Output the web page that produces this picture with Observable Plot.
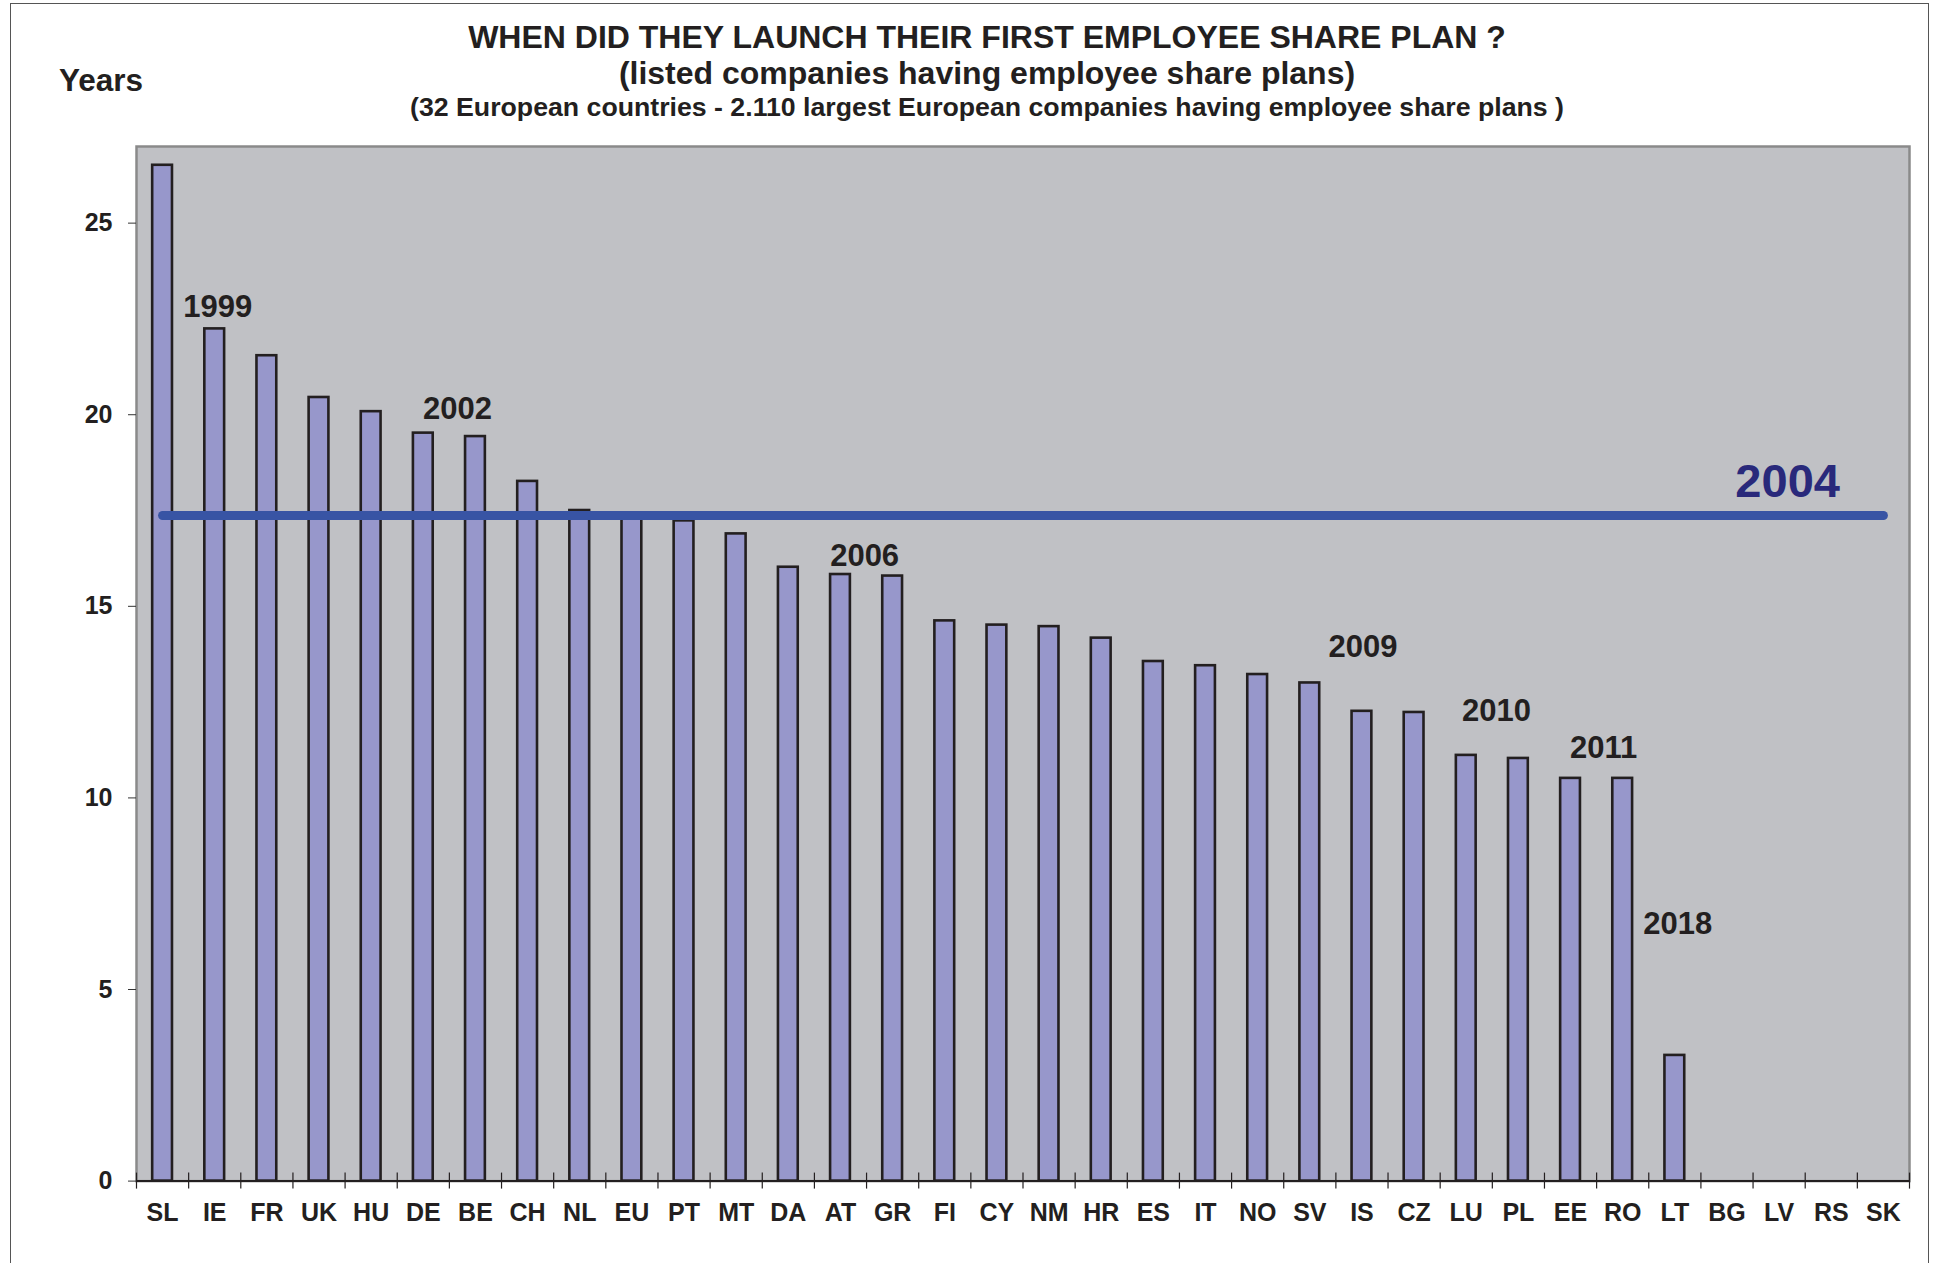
<!DOCTYPE html>
<html>
<head>
<meta charset="utf-8">
<script src="https://cdn.jsdelivr.net/npm/d3@7"></script>
<script src="https://cdn.jsdelivr.net/npm/@observablehq/plot@0.6"></script>
<style>
  html, body { margin: 0; padding: 0; background: #ffffff; overflow: hidden; }
  #wrap { position: relative; width: 1934px; height: 1263px; overflow: hidden;
          font-family: "Liberation Sans", Arial, Helvetica, sans-serif; font-weight: bold; color: #231f20; }
  #outer { position: absolute; left: 10px; top: 3px; width: 1919px; height: 1400px;
           border: 1.5px solid #555; box-sizing: border-box; }
  .t { position: absolute; white-space: nowrap; line-height: 1; }
  .c { left: 987px; transform: translateX(-50%); }
  #chart { position: absolute; left: 0; top: 0; }
</style>
</head>
<body>
<div id="wrap">
  <div id="outer"></div>
  <div id="chart"></div>
  <div class="t c" id="t1" style="top:21px;font-size:32px;"></div>
  <div class="t c" id="t2" style="top:57px;font-size:32px;"></div>
  <div class="t c" id="t3" style="top:94px;font-size:26.7px;"></div>
  <div class="t" id="ylab" style="left:59px;top:65px;font-size:31.5px;"></div>
</div>
<script>
// ---------- data ----------
const titleLine1 = "WHEN DID THEY LAUNCH THEIR FIRST EMPLOYEE SHARE PLAN ?";
const titleLine2 = "(listed companies having employee share plans)";
const titleLine3 = "(32 European countries - 2.110 largest European companies having employee share plans )";
const yAxisLabel = "Years";

const countries = ["SL","IE","FR","UK","HU","DE","BE","CH","NL","EU","PT","MT","DA","AT","GR","FI","CY","NM","HR","ES","IT","NO","SV","IS","CZ","LU","PL","EE","RO","LT","BG","LV","RS","SK"];
const yearsSince = [26.51, 22.24, 21.54, 20.45, 20.08, 19.52, 19.43, 18.26, 17.50, 17.35, 17.23, 16.89, 16.02, 15.83, 15.79, 14.62, 14.51, 14.47, 14.17, 13.56, 13.45, 13.22, 13.00, 12.26, 12.23, 11.11, 11.03, 10.51, 10.51, 3.28, 0, 0, 0, 0];
const yTicks = [0, 5, 10, 15, 20, 25];

const averageValue = 17.37;
const averageLabel = "2004";

const annoCountry = ["IE", "BE", "GR", "IS", "PL", "RO", "LT"];
const annoLabel   = ["1999", "2002", "2006", "2009", "2010", "2011", "2018"];
const annoY       = [22.81, 20.16, 16.32, 13.93, 12.26, 11.29, 6.71];
const averageLabelCountry = "LV";
const averageLabelY = 18.25;

// ---------- build ----------
document.getElementById("t1").textContent = titleLine1;
document.getElementById("t2").textContent = titleLine2;
document.getElementById("t3").textContent = titleLine3;
document.getElementById("ylab").textContent = yAxisLabel;

const bars = countries.map((c, i) => ({country: c, value: yearsSince[i]})).filter(d => d.value > 0);
const annos = annoCountry.map((c, i) => ({country: c, label: annoLabel[i], y: annoY[i]}));
// horizontal nudges (px) of the annotation labels relative to their bar
const nudge = {"1999": 3, "2002": -18, "2006": -28, "2009": 1, "2010": -22, "2011": -19, "2018": 3};

const W = 1934, H = 1263, ML = 136, MR = 25, MT = 146, MB = 82.4;
const bw = (W - ML - MR) / countries.length;
const k = 27 / (H - MT - MB); // data units per px
const barWidth = 19.8;
const inset = (bw - barWidth) / 2;

const fontFamily = '"Liberation Sans", Arial, Helvetica, sans-serif';

const annoMarks = annos.map(a =>
  Plot.text([a], {x: "country", y: "y", text: "label", dx: nudge[a.label], fontSize: 31, fontWeight: "bold", fill: "#231f20", lineAnchor: "middle", textAnchor: "middle"})
);

const plot = Plot.plot({
  width: W,
  height: H,
  marginLeft: ML,
  marginRight: MR,
  marginTop: MT,
  marginBottom: MB,
  style: {fontFamily, fontWeight: "bold", fontSize: "25px", color: "#231f20", background: "transparent", overflow: "visible"},
  x: {type: "band", domain: countries, padding: 0, align: 0.5, round: false},
  y: {domain: [0, 27]},
  marks: [
    Plot.frame({fill: "#c0c1c5"}),
    Plot.frame({stroke: "#8a8a8a", strokeWidth: 2.5}),
    Plot.barY(bars, {x: "country", y: "value", fill: "#9797cb", stroke: "#231f20", strokeWidth: 2.6, insetLeft: inset, insetRight: inset}),
    Plot.ruleX(countries, {x: d => d, dx: -bw / 2, y1: -8 * k, y2: 8 * k, stroke: "#231f20", strokeWidth: 1.2}),
    Plot.ruleX([countries[countries.length - 1]], {x: d => d, dx: bw / 2, y1: -8 * k, y2: 8 * k, stroke: "#231f20", strokeWidth: 1.2}),
    Plot.ruleY([0], {stroke: "#231f20", strokeWidth: 2}),
    Plot.line([countries[0], countries[countries.length - 1]], {x: d => d, y: () => averageValue, stroke: "#3854a4", strokeWidth: 9, strokeLinecap: "round"}),
    ...annoMarks,
    Plot.text([averageLabel], {x: () => averageLabelCountry, y: () => averageLabelY, text: d => d, dx: 8.5, fontSize: 47, fontWeight: "bold", fill: "#29297b", lineAnchor: "middle"}),
    Plot.axisY({ticks: yTicks, tickSize: 8, tickPadding: 16, fontSize: 25, fontWeight: "bold", stroke: "#333", label: null}),
    Plot.axisX({tickSize: 0, tickPadding: 22, fontSize: 25, fontWeight: "bold", label: null})
  ]
});

document.getElementById("chart").appendChild(plot);
</script>
</body>
</html>
